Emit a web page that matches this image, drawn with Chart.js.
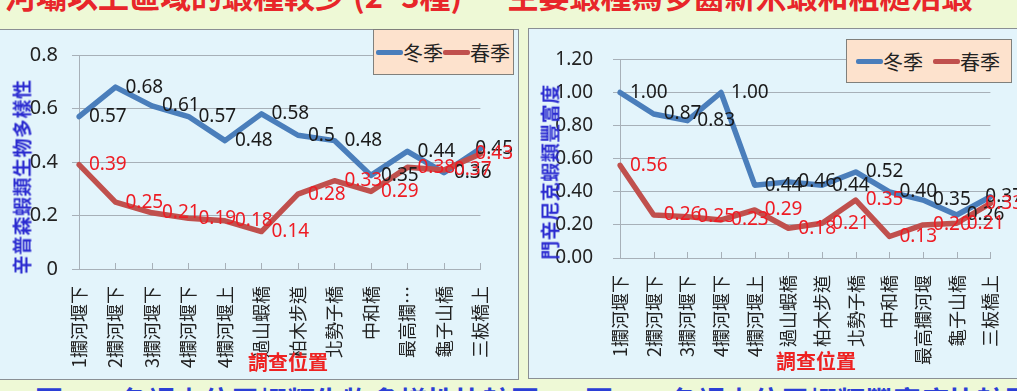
<!DOCTYPE html>
<html>
<head>
<meta charset="utf-8">
<script src="https://cdn.jsdelivr.net/npm/chart.js@4/dist/chart.umd.min.js"></script>
<style>
  body { margin: 0; width: 1017px; height: 391px; overflow: hidden; position: relative;
         background: #eef9d6; font-family: "Noto Sans CJK TC", sans-serif; }
  .slide-title { position: absolute; left: 5px; top: -21px; font-size: 31px; line-height: 31px;
                 font-weight: bold; color: #e8262a; white-space: nowrap; }
  .caption { position: absolute; top: 386px; font-size: 28px; line-height: 28px; color: #2b3fd6;
             white-space: nowrap; font-weight: bold; }
  .panel { position: absolute; box-sizing: border-box; background: #e3f4fb; border: 1.5px solid #8a8f94; }
  canvas { position: absolute; }
  .ytitle { position: absolute; font-size: 19px; font-weight: bold; color: #2b2bd0; white-space: nowrap;
            transform: translate(-50%, -50%) rotate(-90deg); letter-spacing: 0.5px; }
  .xtitle { position: absolute; font-size: 20px; font-weight: bold; color: #ee2222; white-space: nowrap;
            transform: translate(-50%, -50%); }
  .legend { position: absolute; box-sizing: border-box; background: #fde2cd; border: 1.5px solid #80807c;
            display: flex; align-items: center; font-size: 20px; color: #222; padding-left: 2px; }
  .legend .swatch { display: inline-block; width: 27px; height: 5px; border-radius: 2px; }
</style>
</head>
<body>
<div class="slide-title">河壩以上區域的蝦種較少 (2~3種) － 主要蝦種為多齒新米蝦和粗糙沼蝦</div>

<div class="panel" style="left:-2px; top:29px; width:521px; height:351px;"></div>
<div class="panel" style="left:528px; top:28px; width:520px; height:351px;"></div>

<canvas id="diversityChart" width="519" height="350" style="left:0; top:29px;"></canvas>
<canvas id="richnessChart" width="500" height="350" style="left:529px; top:28px;"></canvas>

<div class="ytitle" style="left:21px; top:177px;">辛普森蝦類生物多樣性</div>
<div class="ytitle" style="left:549px; top:172px;">門辛尼克蝦類豐富度</div>
<div class="xtitle" style="left:288px; top:361px;">調查位置</div>
<div class="xtitle" style="left:816px; top:360px;">調查位置</div>

<div class="legend" style="left:373px; top:29px; width:141px; height:46px;">
  <span class="swatch" style="background:#4a7ebb"></span><span>冬季</span>
  <span class="swatch" style="background:#c0504d"></span><span>春季</span>
</div>
<div class="legend" style="left:846px; top:39px; width:166px; height:44px; padding-left:9px;">
  <span class="swatch" style="background:#4a7ebb"></span><span>冬季</span>
  <span style="width:10px"></span>
  <span class="swatch" style="background:#c0504d"></span><span>春季</span>
</div>

<div class="caption" style="left:35px;">圖 4-3 各調查位置蝦類生物多樣性比較圖</div>
<div class="caption" style="left:585px;">圖 4-4 各調查位置蝦類豐富度比較圖</div>

<script>
// 調查位置
const sites = ['1攔河堰下', '2攔河堰下', '3攔河堰下', '4攔河堰下', '4攔河堰上', '過山蝦橋',
               '柏木步道', '北勢子橋', '中和橋', '最高攔河堰', '龜子山橋', '三板橋上'];
// 左圖標籤較窄，最高攔河堰被截短
const sitesShort = sites.map(s => s === '最高攔河堰' ? '最高攔…' : s);

// 辛普森多樣性指數
const simpsonWinter = [0.57, 0.68, 0.61, 0.57, 0.48, 0.58, 0.5, 0.48, 0.35, 0.44, 0.36, 0.45];
const simpsonSpring = [0.39, 0.25, 0.21, 0.19, 0.18, 0.14, 0.28, 0.33, 0.29, 0.38, 0.37, 0.43];

// 門辛尼克豐富度指數
const menhinickWinter = [1.00, 0.87, 0.83, 1.00, 0.44, 0.46, 0.44, 0.52, 0.40, 0.35, 0.26, 0.37];
const menhinickSpring = [0.56, 0.26, 0.25, 0.23, 0.29, 0.18, 0.21, 0.35, 0.13, 0.20, 0.21, 0.33];

const BLUE = '#4a7ebb';
const RED = '#c0504d';
const GRID = '#a7b0b8';

// 數值標籤畫在點的右邊，超出畫布時往左移
const pointLabels = {
    id: 'pointLabels',
    afterDatasetsDraw(chart, args, opts) {
        const ctx = chart.ctx;
        ctx.save();
        ctx.font = '19px "Noto Sans"';
        ctx.textBaseline = 'middle';
        chart.data.datasets.forEach((ds, i) => {
            const meta = chart.getDatasetMeta(i);
            ctx.fillStyle = ds.labelColor;
            meta.data.forEach((pt, j) => {
                const text = opts.format(ds.data[j]);
                const w = ctx.measureText(text).width;
                let x = pt.x + 10;
                if (x + w > chart.width - 6) x = chart.width - 6 - w;
                ctx.fillText(text, x, pt.y);
            });
        });
        ctx.restore();
    }
};

// X軸刻度線朝內
const innerTicks = {
    id: 'innerTicks',
    beforeDatasetsDraw(chart) {
        const x = chart.scales.x;
        const bottom = chart.chartArea.bottom;
        const ctx = chart.ctx;
        ctx.save();
        ctx.strokeStyle = GRID;
        ctx.lineWidth = 1;
        for (let i = 1; i < x.ticks.length; i++) {
            const px = Math.round(x.getPixelForTick(i)) + 0.5;
            ctx.beginPath();
            ctx.moveTo(px, bottom);
            ctx.lineTo(px, bottom - 6);
            ctx.stroke();
        }
        ctx.restore();
    }
};

function makeChart(id, labels, winter, spring, yMax, yStep, fmt, geo) {
    const line = (label, data, color, labelColor, order) => ({
        label, data, order, labelColor,
        borderColor: color,
        borderWidth: 5.5,
        borderJoinStyle: 'round',
        borderCapStyle: 'round',
        pointRadius: 0,
        tension: 0
    });
    return new Chart(document.getElementById(id), {
        type: 'line',
        data: {
            labels,
            datasets: [
                line('冬季', winter, BLUE, '#1a1a1a', 1),
                line('春季', spring, RED, '#ee1c24', 0)
            ]
        },
        options: {
            responsive: false,
            animation: false,
            layout: { padding: { left: 0, top: geo.top, right: geo.right, bottom: 0 } },
            plugins: {
                legend: { display: false },
                tooltip: { enabled: false },
                pointLabels: { format: fmt }
            },
            scales: {
                x: {
                    offset: false,
                    grid: { display: true, drawOnChartArea: false, drawTicks: false },
                    border: { color: GRID, width: 1 },
                    ticks: {
                        autoSkip: false, minRotation: 90, maxRotation: 90, padding: 17,
                        color: '#222', font: { family: '"Noto Sans CJK TC"', size: 18 }
                    },
                    afterFit: s => { s.height = geo.xHeight; }
                },
                y: {
                    min: 0, max: yMax,
                    grid: { color: GRID, lineWidth: 1, tickLength: 7 },
                    border: { color: GRID, width: 1 },
                    ticks: {
                        stepSize: yStep, padding: geo.yPad, color: '#222',
                        font: { family: '"Noto Sans"', size: geo.yFont },
                        callback: v => fmt(v, true)
                    },
                    afterFit: s => { s.width = geo.yWidth; }
                }
            }
        },
        plugins: [pointLabels, innerTicks]
    });
}

// 左圖：一般格式（0.5、0.57）
const fmtGeneral = (v, axis) => {
    if (axis) return v === 0 ? '0' : v.toFixed(1);
    return String(Math.round(v * 100) / 100);
};
// 右圖：固定兩位小數
const fmtFixed = v => v.toFixed(2);

makeChart('diversityChart', sitesShort, simpsonWinter, simpsonSpring, 0.8, 0.2, fmtGeneral,
    { top: 20, right: 18, xHeight: 110, yWidth: 79, yPad: 14, yFont: 20 });
makeChart('richnessChart', sites, menhinickWinter, menhinickSpring, 1.2, 0.2, fmtFixed,
    { top: 15, right: 20, xHeight: 120, yWidth: 91, yPad: 20, yFont: 19 });
</script>
</body>
</html>
